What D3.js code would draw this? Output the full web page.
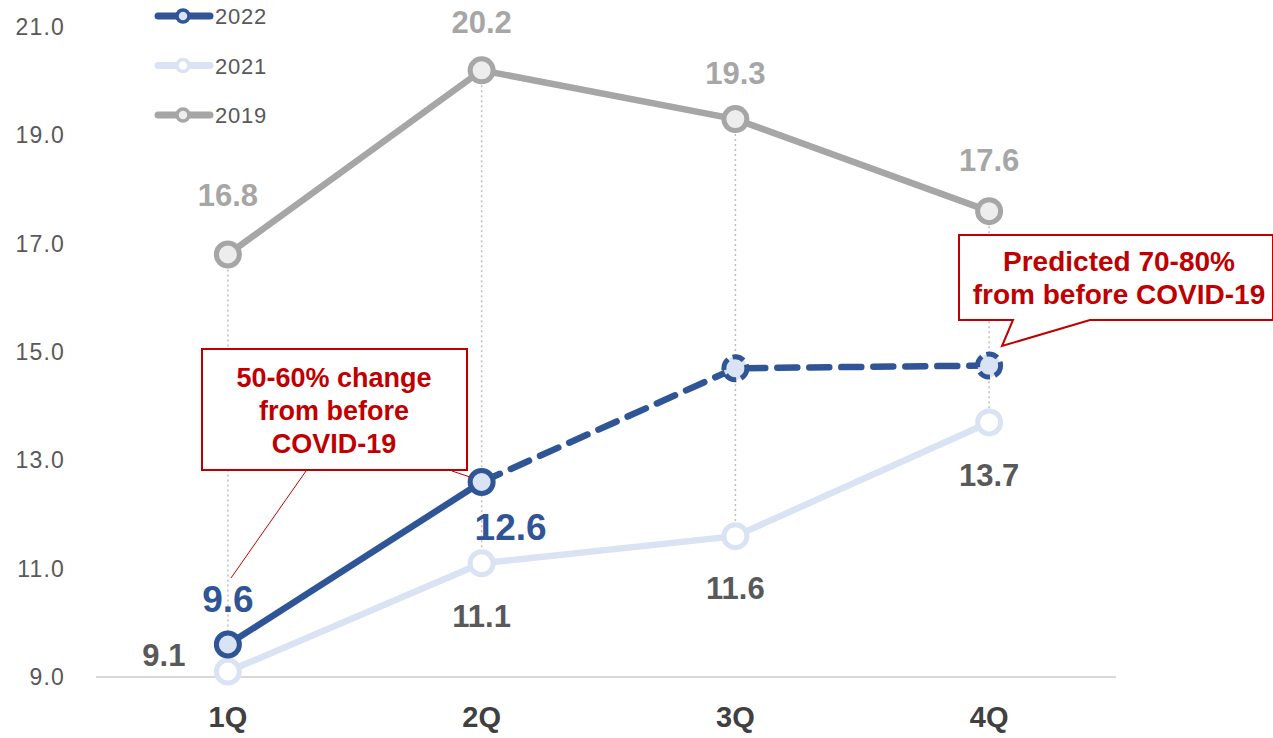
<!DOCTYPE html>
<html>
<head>
<meta charset="utf-8">
<script src="https://cdn.jsdelivr.net/npm/d3@7"></script>
<style>
  body { margin: 0; background: #fff; }
  text { font-family: "Liberation Sans", Arial, sans-serif; }
</style>
</head>
<body>
<svg></svg>
<script>
const size = {w: 1273, h: 738};
const svg = d3.select('svg').attr('width', size.w).attr('height', size.h);

// chart data
const quarters = ['1Q', '2Q', '3Q', '4Q'];
const v2019 = [16.8, 20.2, 19.3, 17.6];
const v2021 = [9.1, 11.1, 11.6, 13.7];
const v2022 = [9.6, 12.6, 14.7, 14.75];
const yTicks = [9, 11, 13, 15, 17, 19, 21];

const x = d3.scaleBand().domain(quarters).range([101, 1116]);
const cx = q => x(q) + x.bandwidth() / 2;
const y = d3.scaleLinear().domain([9, 21]).range([677, 27]);

// y axis labels
svg.append('g').selectAll('text')
    .data(yTicks)
    .join('text')
    .attr('x', 65).attr('y', d => y(d) + 8)
    .attr('text-anchor', 'end')
    .attr('font-size', 23).attr('letter-spacing', 1.2)
    .attr('fill', '#595959')
    .text(d => d.toFixed(1));

// baseline
svg.append('line')
    .attr('x1', 96).attr('x2', 1116)
    .attr('y1', y(9)).attr('y2', y(9))
    .attr('stroke', '#d9d9d9').attr('stroke-width', 2);

// x labels
svg.append('g').selectAll('text')
    .data(quarters)
    .join('text')
    .attr('x', d => cx(d)).attr('y', 727)
    .attr('text-anchor', 'middle')
    .attr('font-size', 29).attr('font-weight', 'bold')
    .attr('fill', '#404040')
    .text(d => d);

// dotted high-low lines
svg.append('g').selectAll('line')
    .data(quarters)
    .join('line')
    .attr('x1', d => cx(d)).attr('x2', d => cx(d))
    .attr('y1', (d, i) => y(v2019[i]))
    .attr('y2', (d, i) => y(Math.min(v2021[i], v2022[i])))
    .attr('stroke', '#bfbfbf').attr('stroke-width', 1.5)
    .attr('stroke-dasharray', '2,3');

const line = d3.line().x(d => cx(d.q)).y(d => y(d.v));
const pts = arr => arr.map((v, i) => ({q: quarters[i], v: v}));

function drawSeries(data, color, fill, dashFrom) {
    let g = svg.append('g');
    let p = pts(data);
    if (dashFrom == null) {
        g.append('path').attr('d', line(p))
            .attr('fill', 'none').attr('stroke', color).attr('stroke-width', 6.5)
            .attr('stroke-linecap', 'round');
    } else {
        g.append('path').attr('d', line(p.slice(0, dashFrom + 1)))
            .attr('fill', 'none').attr('stroke', color).attr('stroke-width', 6.5)
            .attr('stroke-linecap', 'round');
        g.append('path').attr('d', line(p.slice(dashFrom)))
            .attr('fill', 'none').attr('stroke', color).attr('stroke-width', 6.5)
            .attr('stroke-dasharray', '20,12').attr('stroke-linecap', 'round');
    }
    g.selectAll('circle')
        .data(p)
        .join('circle')
        .attr('cx', d => cx(d.q)).attr('cy', d => y(d.v))
        .attr('r', 11.5)
        .attr('fill', fill).attr('stroke', color).attr('stroke-width', 5)
        .attr('stroke-dasharray', (d, i) => (dashFrom != null && i > dashFrom) ? '12,5' : null);
}

drawSeries(v2021, '#dae3f3', '#ffffff', null);
drawSeries(v2019, '#a6a6a6', '#ededed', null);
drawSeries(v2022, '#2f5597', '#dae3f3', 1);

// data labels 2019
const off2019 = [-49, -37, -35, -40];
svg.append('g').selectAll('text')
    .data(v2019)
    .join('text')
    .attr('x', (d, i) => cx(quarters[i])).attr('y', (d, i) => y(d) + off2019[i])
    .attr('text-anchor', 'middle')
    .attr('font-size', 31).attr('font-weight', 'bold').attr('fill', '#a6a6a6')
    .text(d => d.toFixed(1));

// data labels 2021
const off2021 = [{dx: -64, dy: -6}, {dx: 0, dy: 64}, {dx: 0, dy: 63}, {dx: 0, dy: 64}];
svg.append('g').selectAll('text')
    .data(v2021)
    .join('text')
    .attr('x', (d, i) => cx(quarters[i]) + off2021[i].dx)
    .attr('y', (d, i) => y(d) + off2021[i].dy)
    .attr('text-anchor', 'middle')
    .attr('font-size', 31).attr('font-weight', 'bold').attr('fill', '#595959')
    .text(d => d.toFixed(1));

// data labels 2022 (actuals only)
const off2022 = [{dx: 0, dy: -33}, {dx: 29, dy: 58}];
svg.append('g').selectAll('text')
    .data(v2022.slice(0, 2))
    .join('text')
    .attr('x', (d, i) => cx(quarters[i]) + off2022[i].dx)
    .attr('y', (d, i) => y(d) + off2022[i].dy)
    .attr('text-anchor', 'middle')
    .attr('font-size', 37).attr('font-weight', 'bold').attr('fill', '#2f5597')
    .text(d => d.toFixed(1));

// legend
const legendItems = [
    {name: '2022', color: '#2f5597', fill: '#dae3f3'},
    {name: '2021', color: '#dae3f3', fill: '#ffffff'},
    {name: '2019', color: '#a6a6a6', fill: '#ededed'}
];
const lg = svg.append('g').selectAll('g')
    .data(legendItems)
    .join('g')
    .attr('transform', (d, i) => `translate(0, ${16 + i * 49.5})`);
lg.append('line')
    .attr('x1', 158).attr('x2', 210)
    .attr('stroke', d => d.color).attr('stroke-width', 7).attr('stroke-linecap', 'round');
lg.append('circle')
    .attr('cx', 183).attr('r', 6)
    .attr('fill', d => d.fill).attr('stroke', d => d.color).attr('stroke-width', 3.5);
lg.append('text')
    .attr('x', 215).attr('y', 8)
    .attr('font-size', 22).attr('letter-spacing', 0.8).attr('fill', '#595959')
    .text(d => d.name);

// annotation 1
const red = '#c00000';
svg.append('line')
    .attr('x1', 306).attr('y1', 471).attr('x2', 231).attr('y2', 578)
    .attr('stroke', red).attr('stroke-width', 1);
svg.append('line')
    .attr('x1', 452).attr('y1', 471).attr('x2', 470).attr('y2', 477)
    .attr('stroke', red).attr('stroke-width', 1);
svg.append('rect')
    .attr('x', 202).attr('y', 349).attr('width', 265).attr('height', 121)
    .attr('fill', '#fff').attr('stroke', red).attr('stroke-width', 2);
svg.append('text')
    .attr('text-anchor', 'middle').attr('font-size', 27).attr('font-weight', 'bold').attr('fill', red)
    .selectAll('tspan')
    .data(['50-60% change', 'from before', 'COVID-19'])
    .join('tspan')
    .attr('x', 334).attr('y', (d, i) => 387 + i * 33)
    .text(d => d);

// annotation 2 (callout)
svg.append('path')
    .attr('d', 'M959,235 H1273 V320 H1090 L1002,346 L1013,320 H959 Z')
    .attr('fill', '#fff').attr('stroke', red).attr('stroke-width', 2);
svg.append('text')
    .attr('text-anchor', 'middle').attr('font-size', 28).attr('font-weight', 'bold').attr('fill', red)
    .selectAll('tspan')
    .data(['Predicted 70-80%', 'from before COVID-19'])
    .join('tspan')
    .attr('x', 1119).attr('y', (d, i) => 271 + i * 33)
    .text(d => d);
</script>
</body>
</html>
